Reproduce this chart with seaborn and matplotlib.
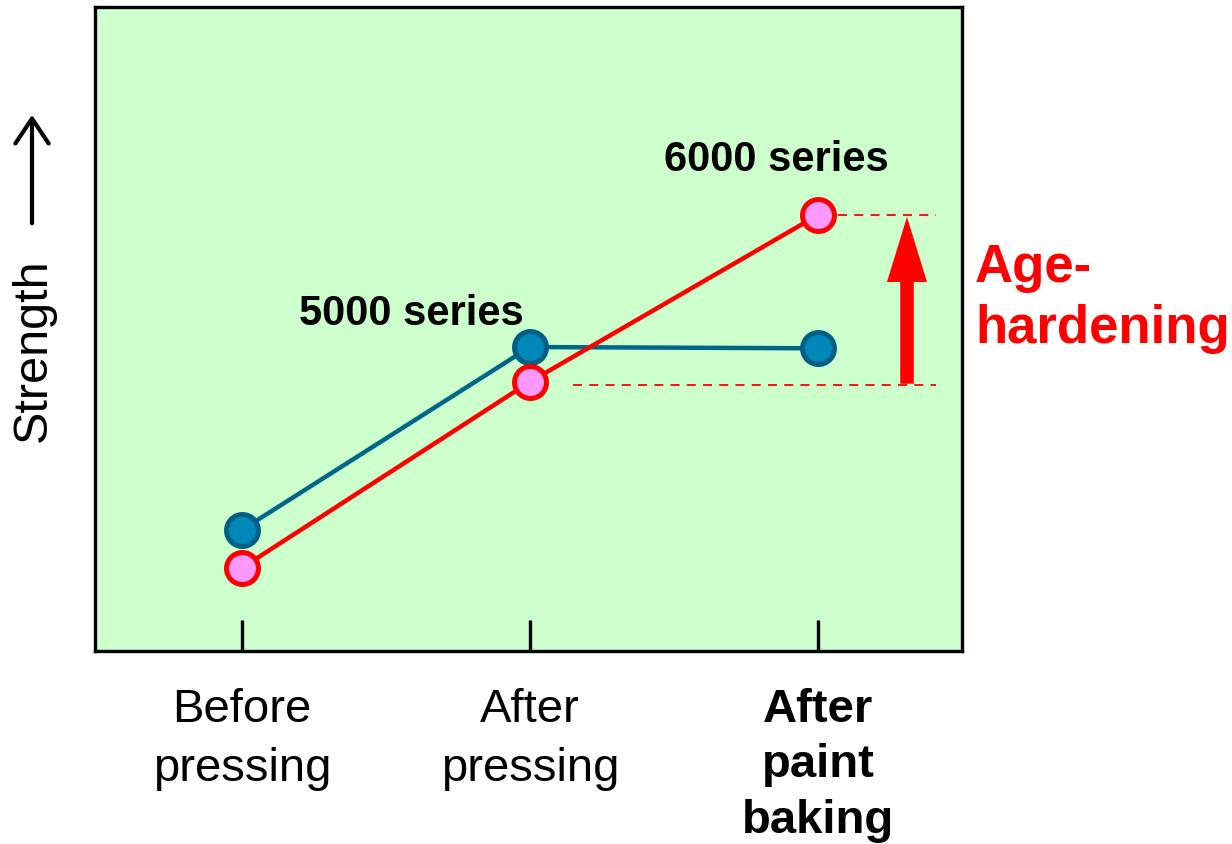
import matplotlib
matplotlib.use("Agg")
import matplotlib.pyplot as plt
import seaborn as sns
import pandas as pd

stages = ["Before\npressing", "After\npressing", "After\npaint\nbaking"]
series_5000 = [18.8, 47.2, 47.0]
series_6000 = [12.9, 41.8, 67.7]

sns.set_style("white")
plt.rcParams["font.family"] = ["Liberation Sans", "DejaVu Sans"]

fig = plt.figure(figsize=(12.32, 8.45), dpi=100)
ax = fig.add_axes([95/1232, 1-652/845, (962-95)/1232, (652-8)/845])
ax.set_facecolor("#CCFFCC")

xpos = list(range(len(stages)))
df5 = pd.DataFrame({"x": xpos, "y": series_5000})
df6 = pd.DataFrame({"x": xpos, "y": series_6000})

sns.lineplot(data=df5, x="x", y="y", ax=ax, color="#006688", lw=3.2,
             marker="o", markersize=23, markerfacecolor="#0088B8",
             markeredgecolor="#005F85", markeredgewidth=3.6, zorder=3)
sns.lineplot(data=df6, x="x", y="y", ax=ax, color="#FF0000", lw=3.2,
             marker="o", markersize=23, markerfacecolor="#FF99FF",
             markeredgecolor="#FF0000", markeredgewidth=3.6, zorder=4)

ax.set_xlim(-0.51, 2.5)
ax.set_ylim(0, 100)

# dashed reference lines
ax.plot([2.069, 2.41], [series_6000[2], series_6000[2]], color="#FF0000",
        lw=1.3, ls=(0, (5, 4)), zorder=2)
ax.plot([1.149, 2.41], [41.3, 41.3], color="#FF0000",
        lw=1.3, ls=(0, (5, 4)), zorder=2)

# age-hardening arrow
ax.arrow(2.309, 41.5, 0, 67.4 - 41.5, width=0.047, head_width=0.139,
         head_length=10.1, length_includes_head=True, color="#FF0000",
         lw=0, zorder=3)

ax.text(1.854, 76.4, "6000 series", ha="center", va="center",
        fontsize=30, fontweight="bold", color="black")
ax.text(0.59, 52.5, "5000 series", ha="center", va="center",
        fontsize=30, fontweight="bold", color="black")
ax.text(2.545, 54.9, "Age-\nhardening", ha="left", va="center",
        fontsize=38, fontweight="bold", color="#FF0000", clip_on=False,
        linespacing=1.26)

ax.set_xticks(xpos)
ax.set_xticklabels(stages, fontsize=34, linespacing=1.44, color="black")
for lbl in ax.get_xticklabels()[2:]:
    lbl.set_fontweight("bold")
    lbl.set_linespacing(1.33)
ax.set_yticks([])
ax.tick_params(axis="x", direction="in", length=22, width=2.4,
               color="black", pad=26, bottom=True)
ax.set_xlabel("")
ax.set_ylabel("Strength", fontsize=35, color="black")
ax.yaxis.set_label_coords(-0.0715, 0.468)
ax.yaxis.label.set_va("center")

# arrow next to the axis title
fig.patches.append(matplotlib.patches.FancyArrowPatch(
    (32/1232, 1-227/845), (32/1232, 1-113/845), transform=fig.transFigure,
    arrowstyle="->,head_length=0.9,head_width=0.6", lw=3.0, color="black",
    mutation_scale=20))

for s in ax.spines.values():
    s.set_visible(True)
    s.set_color("black")
    s.set_linewidth(2.4)

fig.savefig("out.png", dpi=100)
